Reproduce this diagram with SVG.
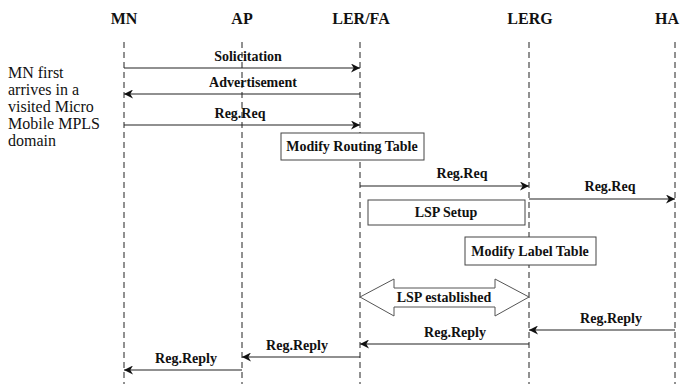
<svg xmlns="http://www.w3.org/2000/svg" width="685" height="385" viewBox="0 0 685 385">
<style>
.hdr{font-family:"Liberation Serif","DejaVu Serif",serif;font-weight:bold;font-size:16px;text-anchor:middle;fill:#111}
.lbl{font-family:"Liberation Serif","DejaVu Serif",serif;font-weight:bold;font-size:14px;text-anchor:middle;fill:#111}
.note{font-family:"Liberation Serif","DejaVu Serif",serif;font-size:16px;fill:#111}
.life{stroke:#222;stroke-width:1;stroke-dasharray:6,4;fill:none}
.msg{stroke:#222;stroke-width:1.2;fill:none;marker-end:url(#ah)}
.box{fill:#fff;stroke:#444;stroke-width:1}
</style>
<defs>
<marker id="ah" viewBox="0 0 10 10" refX="10" refY="5" markerWidth="9" markerHeight="9" markerUnits="userSpaceOnUse" orient="auto">
<path d="M0,0 L10,5 L0,10 L3,5 Z" fill="#111"/>
</marker>
</defs>
<rect width="685" height="385" fill="#fff"/>
<g id="MN"><text class="hdr" x="124" y="24">MN</text><line class="life" x1="124" y1="42" x2="124" y2="384"/></g>
<g id="AP"><text class="hdr" x="242" y="24">AP</text><line class="life" x1="242" y1="42" x2="242" y2="384"/></g>
<g id="LERFA"><text class="hdr" x="361" y="24">LER/FA</text><line class="life" x1="360" y1="42" x2="360" y2="384"/></g>
<g id="LERG"><text class="hdr" x="530" y="24">LERG</text><line class="life" x1="529" y1="42" x2="529" y2="384"/></g>
<g id="HA"><text class="hdr" x="667" y="24">HA</text><line class="life" x1="675" y1="42" x2="675" y2="384"/></g>
<g id="note"><text class="note" x="8" y="78">MN first</text><text class="note" x="8" y="95">arrives in a</text><text class="note" x="8" y="112">visited Micro</text><text class="note" x="8" y="129">Mobile MPLS</text><text class="note" x="8" y="146">domain</text></g>
<g id="modifyRouting"><rect class="box" x="281" y="133" width="143" height="27"/><text class="lbl" x="352" y="151">Modify Routing Table</text></g>
<g id="lspSetup"><rect class="box" x="368" y="200" width="157" height="25"/><text class="lbl" x="446" y="217">LSP Setup</text></g>
<g id="modifyLabel"><rect class="box" x="465" y="237" width="131" height="28"/><text class="lbl" x="530" y="256">Modify Label Table</text></g>
<g id="lspEstablished"><path d="M360,297 L394,279 L394,288 L495,288 L495,279 L529,297 L495,316 L495,307 L394,307 L394,316 Z" fill="#fff" stroke="#555" stroke-width="1"/><text class="lbl" x="444" y="302">LSP established</text></g>
<g id="connectors">
<line class="msg" x1="124" y1="68" x2="360" y2="68"/><text class="lbl" x="248" y="61">Solicitation</text>
<line class="msg" x1="360" y1="94" x2="124" y2="94"/><text class="lbl" x="253" y="87">Advertisement</text>
<line class="msg" x1="124" y1="125" x2="360" y2="125"/><text class="lbl" x="240" y="118">Reg.Req</text>
<line class="msg" x1="360" y1="186" x2="529" y2="186"/><text class="lbl" x="462" y="178">Reg.Req</text>
<line class="msg" x1="529" y1="199" x2="675" y2="199"/><text class="lbl" x="610" y="191">Reg.Req</text>
<line class="msg" x1="675" y1="330" x2="529" y2="330"/><text class="lbl" x="611" y="323">Reg.Reply</text>
<line class="msg" x1="529" y1="344" x2="360" y2="344"/><text class="lbl" x="455" y="337">Reg.Reply</text>
<line class="msg" x1="360" y1="357" x2="242" y2="357"/><text class="lbl" x="297" y="350">Reg.Reply</text>
<line class="msg" x1="242" y1="370" x2="124" y2="370"/><text class="lbl" x="186" y="363">Reg.Reply</text>
</g>
</svg>
